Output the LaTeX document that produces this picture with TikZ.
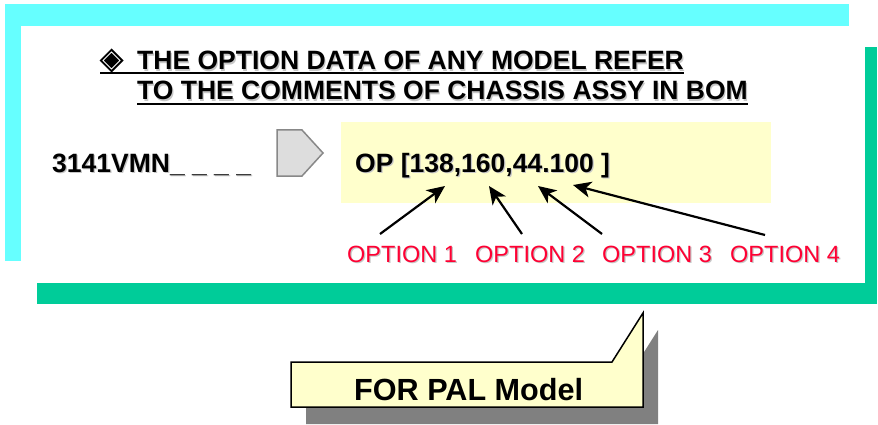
\documentclass[tikz,border=0pt]{standalone}
\usepackage{fontspec}
\setmainfont{Liberation Sans}
\usetikzlibrary{arrows.meta}

\definecolor{frameCyan}{HTML}{66FFFF}
\definecolor{frameGreen}{HTML}{00CC99}
\definecolor{paleYellow}{HTML}{FFFFCC}
\definecolor{optRed}{HTML}{FF0033}
\definecolor{tagGray}{HTML}{DDDDDD}
\definecolor{tagEdge}{HTML}{888888}
\definecolor{shadowGray}{HTML}{808080}

\tikzset{
  txt/.style={inner sep=0pt, anchor=base west},
  headtxt/.style={txt, font=\fontsize{26.5}{30}\selectfont\bfseries},
  opttxt/.style={txt, font=\fontsize{23.5}{28}\selectfont, text=optRed},
  calltxt/.style={txt, font=\fontsize{30.6}{34}\selectfont\bfseries},
  txtshadow/.style={text=black!22},
  pointer/.style={line width=2.2pt, -{Stealth[length=18pt,width=16pt,inset=5pt]}},
  uline/.style={line width=2pt},
}

\begin{document}
\begin{tikzpicture}[x=1pt,y=-1pt]
\useasboundingbox (0,0) rectangle (878,425);

% offset frames behind the white panel
\fill[frameCyan] (5,4) rectangle (849,261);
\fill[frameGreen] (37,47) rectangle (877,304);
\fill[white] (21,26) rectangle (865,283);

% heading bullet: black diamond with an inner white rim
\coordinate (dm) at (111.5,60.5);
\fill[black] ([xshift=-12pt]dm) -- ([yshift=-12pt]dm) -- ([xshift=12pt]dm) -- ([yshift=12pt]dm) -- cycle;
\draw[white, line width=0.9pt] ([xshift=-8.5pt]dm) -- ([yshift=-8.5pt]dm) -- ([xshift=8.5pt]dm) -- ([yshift=8.5pt]dm) -- cycle;

% heading (with soft drop shadow)
\node[headtxt, txtshadow] (h1s) at (138.2,71.2) {THE OPTION DATA OF ANY MODEL REFER};
\node[headtxt, txtshadow] (h2s) at (138.2,101.2) {TO THE COMMENTS OF CHASSIS ASSY IN BOM};
\node[headtxt] (h1) at (137,70) {THE OPTION DATA OF ANY MODEL REFER};
\node[headtxt] (h2) at (137,100) {TO THE COMMENTS OF CHASSIS ASSY IN BOM};
\draw[uline] ([xshift=-37pt,yshift=-3.5pt]h1.base west) -- ([yshift=-3.5pt]h1.base east);
\draw[uline] ([yshift=-4.5pt]h2.base west) -- ([yshift=-4.5pt]h2.base east);

% model code and tag
\node[headtxt, txtshadow] (codes) at (53.2,173.2) {3141VMN\_ \_ \_ \_};
\node[headtxt] (code) at (52,172) {3141VMN\_ \_ \_ \_};
\draw[fill=tagGray, draw=tagEdge, line width=1.5pt, line join=miter]
  (277,130) -- (302,130) -- (323,153) -- (302,176) -- (277,176) -- cycle;

% option data box
\fill[paleYellow] (341,122) rectangle (771,203);
\node[headtxt, txtshadow] (ops) at (356.2,173.2) {OP [138,160,44.100 ]};
\node[headtxt] (op) at (355,172) {OP [138,160,44.100 ]};

% option labels
\node[opttxt, txtshadow] (o1s) at (348.2,263.2) {OPTION 1};
\node[opttxt, txtshadow] (o2s) at (476.2,263.2) {OPTION 2};
\node[opttxt, txtshadow] (o3s) at (603.2,263.2) {OPTION 3};
\node[opttxt, txtshadow] (o4s) at (731.2,263.2) {OPTION 4};
\node[opttxt] (o1) at (347,262) {OPTION 1};
\node[opttxt] (o2) at (475,262) {OPTION 2};
\node[opttxt] (o3) at (602,262) {OPTION 3};
\node[opttxt] (o4) at (730,262) {OPTION 4};

% arrows from labels to the option values
\coordinate (t1) at (380,234);
\coordinate (t2) at (522,234);
\coordinate (t3) at (602,234);
\coordinate (t4) at (765,235);
\coordinate (p1) at (445,186);
\coordinate (p2) at (489,186);
\coordinate (p3) at (538,186);
\coordinate (p4) at (573,185);
\draw[pointer] (t1) -- (p1);
\draw[pointer] (t2) -- (p2);
\draw[pointer] (t3) -- (p3);
\draw[pointer] (t4) -- (p4);

% callout with drop shadow
\fill[shadowGray] (306,379) -- (627,379) -- (658,330) -- (658,424) -- (306,424) -- cycle;
\draw[fill=paleYellow, line width=1.5pt, line join=miter]
  (291,362) -- (612,362) -- (643,313) -- (643,407) -- (291,407) -- cycle;
\node[calltxt] (pal) at (354,400) {FOR PAL Model};
\end{tikzpicture}
\end{document}
